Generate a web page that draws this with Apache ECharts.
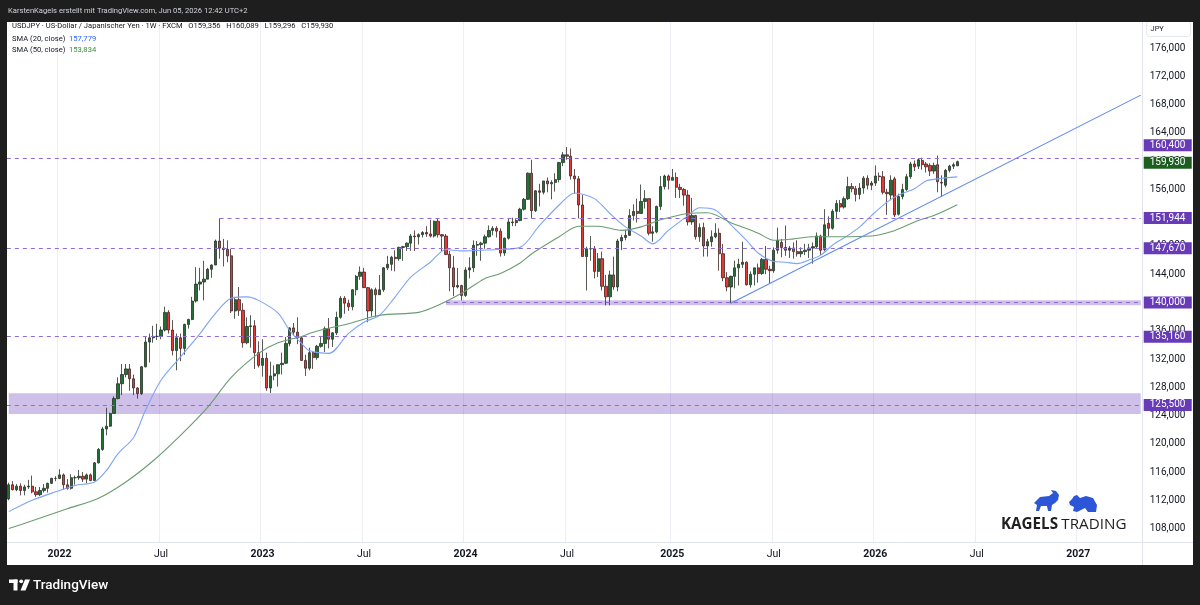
<!DOCTYPE html>
<html>
<head>
<meta charset="utf-8">
<title>USDJPY 1W</title>
<script src="https://cdn.jsdelivr.net/npm/echarts@6/dist/echarts.min.js"></script>
<style>
html, body { margin: 0; padding: 0; background: #1e1e1e; }
#chart { width: 1200px; height: 605px; }
</style>
</head>
<body>
<div id="chart"></div>
<script>
// weekly bars, first slot = week of 2021-10-04, slots continue into 2027 (empty right side)
var firstWeek = '2021-10-04';
var weekSlots = 291;

// OHLC, one value per week from 2021-10-04 to 2026-06-01
var open = [
  112.2,114.2,113.5,114.0,113.4,113.9,114.0,113.2,112.8,113.4,113.7,114.4,115.1,
  // 2022
  115.1,115.6,114.2,113.7,115.2,115.2,115.4,115.0,115.6,114.8,117.3,119.2,122.1,
  122.5,124.3,126.4,128.5,129.8,130.6,129.2,127.9,127.1,130.9,134.4,135.0,135.2,
  135.2,136.1,138.6,136.1,133.2,135.0,133.5,136.9,137.6,140.2,142.6,142.9,143.3,
  144.7,145.3,148.7,147.7,147.5,146.6,138.8,140.4,138.9,134.3,136.6,136.7,132.9,
  // 2023
  131.1,132.1,127.9,129.6,129.9,131.2,131.4,134.2,136.4,135.8,135.0,131.8,130.7,
  132.9,132.2,133.8,134.2,136.3,134.8,135.7,137.9,140.6,139.9,139.4,141.8,143.7,
  144.3,142.1,138.8,141.8,141.1,141.8,144.9,145.4,146.4,146.2,147.8,147.9,148.4,
  149.4,149.3,149.6,149.9,149.7,149.4,151.5,149.6,149.4,146.8,144.9,142.2,142.4,
  // 2024
  141.0,144.6,144.9,148.1,148.2,148.4,149.3,150.2,150.5,150.1,147.0,149.1,151.4,
  151.3,151.6,153.2,154.6,158.3,153.0,155.8,155.6,157.2,156.8,157.0,157.4,159.8,
  160.9,160.7,157.9,157.5,153.8,146.5,147.6,147.6,144.4,146.2,142.3,140.8,143.9,
  142.2,148.7,149.2,149.5,152.3,152.9,152.6,154.3,154.7,149.8,150.0,153.6,156.4,
  157.9,
  // 2025
  157.3,157.7,156.3,156.0,155.2,151.4,152.3,149.3,150.6,148.0,148.6,149.3,149.8,
  146.9,143.5,142.2,143.7,144.9,145.4,145.7,142.5,144.0,144.9,144.1,146.1,144.7,
  144.5,147.4,148.5,147.8,147.4,147.7,147.2,146.9,147.2,147.4,147.7,147.9,149.4,
  147.5,151.2,150.5,152.9,154.0,153.5,154.7,156.4,156.1,155.3,156.2,157.6,156.6,
  // 2026
  156.9,157.9,157.8,155.6,155.2,157.5,152.5,155.0,156.0,157.8,159.6,159.3,160.1,
  159.6,159.4,158.6,159.5,157.0,156.6,158.7,159.3,159.356
];
var high = [
  114.5,114.7,114.3,114.4,114.2,114.9,115.5,113.9,113.9,114.3,114.5,115.2,115.4,
  116.4,115.8,115.0,115.7,115.5,116.3,116.0,115.8,115.8,117.4,119.4,122.4,125.1,
  124.4,126.7,129.4,131.3,131.3,131.3,129.8,128.0,131.0,135.2,135.6,136.7,137.0,
  136.6,139.4,138.9,137.5,135.6,135.6,137.0,137.7,140.8,145.0,144.9,145.9,144.9,
  145.4,148.9,151.9,149.0,148.8,147.6,140.8,142.2,139.9,137.9,138.2,137.5,134.5,
  134.8,132.9,131.6,131.1,131.2,132.9,135.1,136.5,137.1,137.9,135.1,132.6,133.6,
  133.0,134.0,135.1,136.6,137.8,135.8,138.7,140.9,140.9,140.4,141.9,143.9,145.1,
  144.9,142.2,142.0,142.1,143.9,145.0,146.6,146.6,147.4,147.9,148.0,148.5,149.7,
  150.2,149.8,150.1,150.8,151.7,151.6,151.9,149.7,149.7,147.3,146.6,144.9,142.5,
  145.0,146.4,148.8,148.7,148.6,149.6,150.9,150.8,150.8,150.5,149.2,151.9,152.0,
  151.9,153.4,154.8,158.4,160.2,155.9,156.8,157.2,157.7,157.3,158.3,159.9,161.3,
  162.0,161.8,158.9,157.9,155.2,147.9,149.4,148.0,147.0,147.2,143.9,144.5,146.5,
  149.0,149.6,150.3,153.2,153.9,154.7,156.7,155.9,154.7,150.8,153.7,157.9,158.1,
  158.1,
  158.9,158.4,156.8,156.2,155.9,154.8,152.4,151.2,151.3,149.0,150.2,151.2,150.5,
  148.3,144.3,143.8,145.9,146.2,148.6,145.8,144.4,144.9,145.5,146.3,148.0,145.2,
  147.8,150.6,149.0,150.9,148.0,148.5,148.8,147.8,148.3,148.3,148.5,149.9,149.6,
  153.2,152.2,153.2,154.5,154.5,155.0,157.8,156.9,156.5,156.9,157.9,158.0,157.2,
  159.4,158.4,158.6,156.1,158.0,157.8,155.4,156.8,158.2,159.9,160.1,160.4,160.5,
  159.9,159.7,159.8,160.8,158.0,158.9,159.5,159.8,160.089
];
var low = [
  112.0,113.4,113.3,112.7,112.7,113.6,113.0,112.5,112.6,113.1,113.1,114.3,114.7,
  115.0,113.5,113.5,113.5,114.2,114.9,114.6,114.4,114.7,114.8,117.2,119.0,121.2,
  122.4,124.3,126.3,126.9,129.4,127.5,126.9,126.4,126.9,130.8,131.5,134.3,134.7,
  134.8,135.9,135.6,132.5,130.4,131.7,132.6,136.3,137.5,140.0,141.7,140.3,143.3,
  143.5,145.3,146.2,145.1,145.7,138.5,137.7,138.1,133.6,134.1,133.6,130.6,130.8,
  129.5,127.5,127.2,129.0,128.1,129.8,131.3,133.8,135.3,134.1,131.7,129.6,130.4,
  130.6,131.9,133.6,133.0,133.5,133.7,135.4,137.7,138.4,138.8,138.9,141.0,143.2,
  142.1,137.2,138.0,138.0,141.1,141.5,144.6,144.5,144.4,145.9,145.9,147.3,147.3,
  147.3,148.2,149.2,149.3,149.2,149.2,149.2,147.2,146.7,141.6,140.9,142.0,140.3,
  140.8,143.4,144.3,146.6,145.9,147.6,149.2,149.5,149.2,146.5,146.6,148.9,150.8,
  150.8,151.5,153.0,154.5,151.9,152.8,153.6,155.3,155.6,154.6,155.7,157.0,159.3,
  160.2,157.4,155.4,151.9,146.5,141.7,145.9,143.4,143.6,141.7,139.6,139.6,141.8,
  141.6,147.4,148.8,149.5,151.6,151.3,152.6,153.3,149.5,148.6,149.8,153.1,156.0,
  156.0,
  157.3,154.8,154.8,153.7,150.9,151.0,148.9,148.6,146.5,146.5,147.9,149.1,144.5,
  143.0,141.6,139.9,142.0,142.4,144.9,142.4,142.1,142.4,142.8,143.9,144.0,142.7,
  144.2,146.9,146.4,146.6,146.3,146.2,146.5,146.4,146.7,146.3,145.5,147.6,146.7,
  147.3,149.4,150.3,151.8,152.8,153.3,154.5,155.6,154.3,154.6,155.4,156.0,155.9,
  156.5,157.2,155.3,152.4,154.6,152.1,152.3,154.6,155.8,157.5,158.6,158.9,158.8,
  158.4,157.9,158.2,155.6,155.0,156.3,158.4,158.9,159.296
];
var close = [
  114.2,113.5,114.0,113.4,113.9,114.0,113.2,112.8,113.4,113.7,114.4,115.1,115.1,
  115.6,114.2,113.7,115.2,115.2,115.4,115.0,115.6,114.8,117.3,119.2,122.1,122.5,
  124.3,126.4,128.5,129.8,130.6,129.2,127.9,127.1,130.9,134.4,135.0,135.2,135.2,
  136.1,138.6,136.1,133.2,135.0,133.5,136.9,137.6,140.2,142.6,142.9,143.3,144.7,
  145.3,148.7,147.7,147.5,146.6,138.8,140.4,138.9,134.3,136.6,136.7,132.9,131.1,
  132.1,127.9,129.6,129.9,131.2,131.4,134.2,136.4,135.8,135.0,131.8,130.7,132.9,
  132.2,133.8,134.2,136.3,134.8,135.7,137.9,140.6,139.9,139.4,141.8,143.7,144.3,
  142.1,138.8,141.8,141.1,141.8,144.9,145.4,146.4,146.2,147.8,147.9,148.4,149.4,
  149.3,149.6,149.9,149.7,149.4,151.5,149.6,149.4,146.8,144.9,142.2,142.4,141.0,
  144.6,144.9,148.1,148.2,148.4,149.3,150.2,150.5,150.1,147.0,149.1,151.4,151.3,
  151.6,153.2,154.6,158.3,153.0,155.8,155.6,157.2,156.8,157.0,157.4,159.8,160.9,
  160.7,157.9,157.5,153.8,146.5,147.6,147.6,144.4,146.2,142.3,140.8,143.9,142.2,
  148.7,149.2,149.5,152.3,152.9,152.6,154.3,154.7,149.8,150.0,153.6,156.4,157.9,
  157.3,
  157.7,156.3,156.0,155.2,151.4,152.3,149.3,150.6,148.0,148.6,149.3,149.8,146.9,
  143.5,142.2,143.7,144.9,145.4,145.7,142.5,144.0,144.9,144.1,146.1,144.7,144.5,
  147.4,148.8,147.8,147.4,147.7,147.2,146.9,147.2,147.4,147.7,147.9,149.4,147.4,
  151.0,150.5,152.9,154.0,153.5,154.7,156.4,156.1,155.3,156.2,157.6,156.6,156.9,
  157.9,157.8,155.6,155.4,157.3,152.4,155.0,156.0,157.8,159.6,159.2,160.2,159.5,
  159.2,158.6,159.4,157.1,156.9,158.7,159.3,159.5,159.930
];

// moving averages, week offsets counted from 2022-01-03
var sma20Week = [-13,-7,-1,4,9,12,15,19,22,26,31,36,40,44,48,51,56,59,62,64,69,74,78,82,86,90,95,99,103,108,
  112,118,123,128,132,137,141,145,149,152,156,161,164,168,172,176,179,183,186,189,192,195,198,202,205,208,212,215,219,222,225,230];
var sma20 = [110.4,112.0,113.2,114.1,114.6,116.2,118.6,120.9,124.7,129.0,132.3,135.6,138.5,140.6,140.8,140.3,138.5,136.0,134.2,133.2,
  132.8,135.6,137.2,138.2,140.8,143.6,145.7,147.5,147.3,147.4,147.5,147.8,150.9,153.8,155.5,154.7,152.6,150.7,149.4,148.3,
  150.2,152.3,153.4,153.1,151.0,148.8,147.0,145.8,145.7,145.5,146.0,146.7,148.1,149.5,150.7,152.3,154.2,155.2,156.1,157.2,
  157.5,157.779];
var sma50Week = [-13,-7,2,10,17,24,31,38,44,51,56,62,65,74,82,92,97,103,109,113,118,121,128,133,138,144,149,154,161,166,
  172,179,183,188,193,200,208,213,220,224,230];
var sma50 = [108.0,109.1,110.8,112.3,114.6,117.6,121.2,125.2,129.4,132.8,134.3,135.2,135.8,137.0,138.2,138.6,139.6,141.3,143.4,144.1,
  145.6,146.9,149.3,150.8,150.8,150.2,150.7,151.7,152.6,152.7,151.3,149.8,148.8,149.0,149.3,149.3,149.4,150.0,151.6,152.3,
  153.834];

// drawn levels
var levelValue = [160.4, 151.944, 147.67, 140.0, 135.16, 125.5];
var levelFrom = ['2021-10-04', '2022-10-17', '2021-10-04', '2023-11-27', '2021-10-04', '2021-10-04'];
var zoneLow = [139.6, 124.2];
var zoneHigh = [140.3, 127.15];
var zoneFrom = ['2023-11-27', '2021-10-04'];
var lastPrice = 159.930;

// trend line through the April 2025 low
var trendDate = ['2025-04-21', '2027-04-26'];
var trendValue = [139.9, 169.35];

var priceTicks = [108,112,116,120,124,128,132,136,140,144,148,152,156,160,164,168,172,176];
var timeTicks = ['2022-01-03','2022-07-04','2023-01-02','2023-07-03','2024-01-01','2024-07-01',
  '2025-01-06','2025-07-07','2026-01-05','2026-07-06','2027-01-04'];
var timeTickText = ['2022','Jul','2023','Jul','2024','Jul','2025','Jul','2026','Jul','2027'];

var weeks = [];
var t0 = Date.parse(firstWeek + 'T00:00:00Z');
for (var i = 0; i < weekSlots; i++) {
  weeks.push(new Date(t0 + i * 7 * 86400000).toISOString().slice(0, 10));
}
var lastIdx = weekSlots - 1;
var offset2022 = weeks.indexOf('2022-01-03');

var candleRows = [];
for (var i = 0; i < open.length; i++) {
  candleRows.push([open[i], close[i], low[i], high[i]]);
}
var sma20Data = sma20Week.map(function (w, k) { return [w + offset2022, sma20[k]]; });
var sma50Data = sma50Week.map(function (w, k) { return [w + offset2022, sma50[k]]; });
var trendData = trendDate.map(function (d, k) { return [weeks.indexOf(d), trendValue[k]]; });

function fmt(v) { return Number(v).toFixed(3).replace('.', ','); }
function labelText(p) {
  var v = p.value;
  if (v == null && p.data) v = p.data.value;
  return v == null ? '' : fmt(v);
}

var FONT = 'Roboto, sans-serif';
var PURPLE = '#673ab7';
var NOLINE = 'rgba(0,0,0,0)';

var levelLines = levelValue.map(function (v, k) {
  var lab = k === 0 ? { offset: [0, -13] } : {};
  if (levelFrom[k] === firstWeek) {
    return { yAxis: v, value: v, label: lab };
  }
  return [
    { coord: [weeks.indexOf(levelFrom[k]), v], value: v, label: Object.assign({ distance: 3 }, lab) },
    { coord: [lastIdx, v] }
  ];
});

var zones = zoneLow.map(function (lo, k) {
  var from = zoneFrom[k] === firstWeek ? 0 : weeks.indexOf(zoneFrom[k]);
  return [{ coord: [from, zoneHigh[k]] }, { coord: [lastIdx, lo] }];
});

var chart = echarts.init(document.getElementById('chart'), null, { renderer: 'canvas' });

var option = {
  backgroundColor: '#ffffff',
  animation: false,
  grid: { left: 6.8, right: 57.3, top: 22, bottom: 63 },
  xAxis: {
    type: 'category',
    data: weeks,
    boundaryGap: true,
    axisLine: { show: false },
    axisTick: { show: false },
    axisLabel: {
      interval: function (idx, value) { return timeTicks.indexOf(value) >= 0; },
      formatter: function (value) {
        var k = timeTicks.indexOf(value);
        if (k < 0) return '';
        return timeTickText[k] === 'Jul' ? '{m|Jul}' : '{y|' + timeTickText[k] + '}';
      },
      margin: 7,
      rich: {
        y: { fontSize: 10.5, fontWeight: 'bold', color: '#131722', fontFamily: FONT },
        m: { fontSize: 10.5, color: '#131722', fontFamily: FONT }
      }
    },
    splitLine: {
      show: true,
      interval: function (idx, value) { return timeTicks.indexOf(value) >= 0; },
      lineStyle: { color: '#eceef3', width: 1 }
    }
  },
  yAxis: {
    type: 'value',
    position: 'right',
    min: 106.1,
    max: 179.7,
    z: 0,
    axisLine: { show: false },
    axisTick: { show: false, customValues: priceTicks },
    axisLabel: {
      show: true,
      customValues: priceTicks,
      showMinLabel: true,
      showMaxLabel: true,
      margin: 7,
      align: 'left',
      color: '#131722', fontSize: 10, fontFamily: FONT,
      formatter: function (v) { return fmt(v); }
    },
    splitLine: { show: false }
  },
  series: [
    {
      type: 'candlestick',
      name: 'USDJPY',
      data: candleRows,
      barWidth: 2.8,
      z: 3,
      itemStyle: {
        color: '#227034', color0: '#e53935',
        borderColor: '#263226', borderColor0: '#3d2525', borderWidth: 0.8
      }
    },
    {
      type: 'line', name: 'SMA 20', data: sma20Data, z: 4,
      symbol: 'none', smooth: 0.3,
      lineStyle: { color: '#7da4f6', width: 1.1 }
    },
    {
      type: 'line', name: 'SMA 50', data: sma50Data, z: 4,
      symbol: 'none', smooth: 0.3,
      lineStyle: { color: '#6a9c70', width: 1.1 }
    },
    {
      type: 'line', name: 'Trend', data: trendData, z: 5,
      symbol: 'none',
      lineStyle: { color: '#5a87f0', width: 1.1 }
    },
    {
      // zones and horizontal levels with price boxes
      type: 'line', name: 'levels', data: [], z: 6, silent: true,
      markArea: {
        z: 1,
        silent: true,
        label: { show: false },
        itemStyle: { color: 'rgba(103,58,183,0.32)' },
        data: zones
      },
      markLine: {
        z: 10,
        symbol: 'none', silent: true, animation: false,
        lineStyle: { color: '#8f6ad9', type: [4, 4], width: 1 },
        label: {
          show: true, position: 'end', distance: 1,
          formatter: labelText,
          color: '#ffffff', fontSize: 10, fontFamily: FONT,
          backgroundColor: PURPLE, padding: [1, 3, 0, 6], width: 39, lineHeight: 11
        },
        data: levelLines.concat([{
          yAxis: lastPrice, value: lastPrice,
          lineStyle: { color: NOLINE, width: 0.1 },
          label: { backgroundColor: '#1b5e20', offset: [0, 1] }
        }])
      }
    }
  ],
  graphic: [
    // dark frame
    { type: 'rect', shape: { x: 0, y: 0, width: 1200, height: 22 }, style: { fill: '#1e1e1e' }, z: 50 },
    { type: 'rect', shape: { x: 0, y: 0, width: 7, height: 605 }, style: { fill: '#1e1e1e' }, z: 50 },
    { type: 'rect', shape: { x: 1193, y: 0, width: 7, height: 605 }, style: { fill: '#1e1e1e' }, z: 50 },
    { type: 'rect', shape: { x: 0, y: 565, width: 1200, height: 40 }, style: { fill: '#1e1e1e' }, z: 50 },
    // axis borders
    { type: 'line', shape: { x1: 1142.5, y1: 22, x2: 1142.5, y2: 565 }, style: { stroke: '#e0e3eb', lineWidth: 1 }, z: 40 },
    { type: 'line', shape: { x1: 7, y1: 542.5, x2: 1193, y2: 542.5 }, style: { stroke: '#e0e3eb', lineWidth: 1 }, z: 40 },
    // currency box
    { type: 'rect', shape: { x: 1146.5, y: 21, width: 44, height: 15.5, r: 3 }, style: { fill: '#ffffff', stroke: '#e6e8ee', lineWidth: 1 }, z: 41 },
    { type: 'text', x: 1150.5, y: 29, style: { text: 'JPY', fontSize: 7.5, fontFamily: FONT, fill: '#131722', verticalAlign: 'middle' }, z: 42 },
    // header
    { type: 'text', x: 8, y: 11, style: { text: 'KarstenKagels erstellt mit TradingView.com, Jun 05, 2026 12:42 UTC+2', fontSize: 7.6, fontFamily: FONT, fill: '#d1d4dc', verticalAlign: 'middle' }, z: 51 },
    // legend
    { type: 'text', x: 12, y: 26.5, style: { text: 'USDJPY · US-Dollar / Japanischer Yen · 1W · FXCM   O159,356   H160,089   L159,296   C159,930', fontSize: 7.6, fontFamily: FONT, fill: '#131722', verticalAlign: 'middle' }, z: 45 },
    { type: 'text', x: 12, y: 38.7, style: { text: '{a|SMA (20, close)}  {b|157,779}', fontSize: 7.6, fontFamily: FONT, verticalAlign: 'middle', rich: { a: { fill: '#131722', fontSize: 7.6, fontFamily: FONT }, b: { fill: '#2962ff', fontSize: 7.6, fontFamily: FONT } } }, z: 45 },
    { type: 'text', x: 12, y: 50.3, style: { text: '{a|SMA (50, close)}  {b|153,834}', fontSize: 7.6, fontFamily: FONT, verticalAlign: 'middle', rich: { a: { fill: '#131722', fontSize: 7.6, fontFamily: FONT }, b: { fill: '#388e3c', fontSize: 7.6, fontFamily: FONT } } }, z: 45 },
    // watermark: bull, bear and name
    { type: 'polygon', shape: { points: [[1034,503],[1040,497],[1049,496],[1053,493],[1051,490],[1056,491],[1059,495],[1058,500],[1055,503],[1052,505],[1051,511],[1048,511],[1047,506],[1041,506],[1039,511],[1036,511],[1037,505]] }, style: { fill: '#2d55d8' }, z: 45 },
    { type: 'polygon', shape: { points: [[1069,502],[1072,499],[1074,496],[1077,495],[1080,498],[1086,496],[1093,498],[1097,505],[1096,512],[1088,512],[1085,508],[1081,510],[1077,512],[1073,511],[1074,507],[1070,505]] }, style: { fill: '#2d55d8' }, z: 45 },
    { type: 'text', x: 1001, y: 525, style: { text: '{b|KAGELS} {n|TRADING}', verticalAlign: 'middle', rich: { b: { fontSize: 15.2, fontWeight: 'bold', fontFamily: '"Open Sans", sans-serif', fill: '#1f1f1f' }, n: { fontSize: 15.2, fontFamily: '"Open Sans", sans-serif', fill: '#1f1f1f' } } }, z: 45 },
    // footer logo
    { type: 'rect', shape: { x: 9, y: 579.5, width: 8.5, height: 3.5 }, style: { fill: '#ffffff' }, z: 52 },
    { type: 'rect', shape: { x: 13.5, y: 579.5, width: 4, height: 11 }, style: { fill: '#ffffff' }, z: 52 },
    { type: 'circle', shape: { cx: 21.2, cy: 581.3, r: 1.9 }, style: { fill: '#ffffff' }, z: 52 },
    { type: 'polygon', shape: { points: [[25, 579.5], [30, 579.5], [25.5, 590.5], [20.5, 590.5]] }, style: { fill: '#ffffff' }, z: 52 },
    { type: 'text', x: 33, y: 585.5, style: { text: 'TradingView', fontSize: 13.5, fontWeight: 500, fontFamily: FONT, fill: '#ffffff', verticalAlign: 'middle' }, z: 52 }
  ]
};

chart.setOption(option);
</script>
</body>
</html>
